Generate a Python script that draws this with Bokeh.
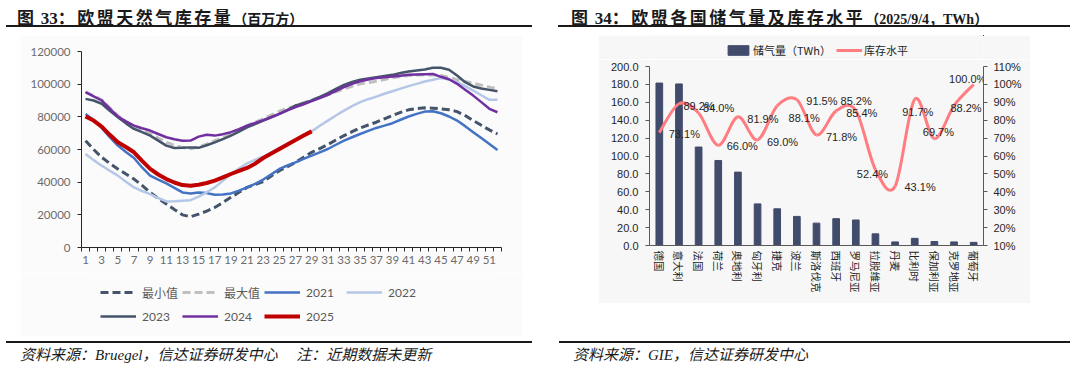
from bokeh.plotting import figure
from bokeh.models import (Range1d, FactorRange, LinearAxis, FixedTicker, PrintfTickFormatter,
                          Legend, LegendItem, ColumnDataSource, Div, Spacer)
from bokeh.layouts import row, column
from bokeh.embed import file_html
from bokeh.resources import INLINE
from bokeh.core.properties import value

# ---------------- data: left chart (EU gas storage, million m3) ----------------
weeks = list(range(1, 53))
week_labels = [str(w) for w in range(1, 52, 2)]
min_vals = [65400, 60000, 55200, 51500, 48100, 45000, 41900, 38000, 33700, 30000,
            26600, 23200, 20000, 18800, 20400, 22300, 24500, 27500, 30700, 33800,
            36800, 38600, 40400, 43800, 47000, 49500, 52100, 55200, 58300, 60600,
            63000, 65800, 68500, 70900, 73200, 75000, 76700, 78800, 80800, 82700,
            84300, 85100, 85500, 85300, 84900, 84300, 83200, 80800, 77700, 74800,
            72000, 69500]
max_vals = [95100, 93000, 90400, 85500, 80800, 77000, 74000, 71800, 69900, 67000,
            64400, 62500, 61200, 60500, 61500, 63300, 65400, 67300, 69500, 72000,
            74600, 76800, 78700, 81100, 83400, 85200, 86900, 88700, 90400, 92000,
            93500, 95300, 97100, 98700, 100200, 101000, 101800, 102900, 103900, 104700,
            105300, 105600, 105700, 105600, 105300, 104200, 102700, 101600, 100600, 99400,
            98200, 97100]
y2021 = [81800, 78100, 73200, 67500, 62400, 58500, 54800, 49000, 44000, 41500,
         39300, 36500, 33700, 33100, 33700, 33300, 32300, 32500, 33100, 34800,
         36800, 39000, 41600, 44800, 48100, 50200, 52100, 54200, 56200, 58200,
         60300, 62900, 65400, 67500, 69500, 71400, 73200, 74600, 76100, 78200,
         80200, 81800, 83200, 83400, 82200, 80200, 77700, 74300, 70600, 67000,
         63400, 59700]
y2022 = [57300, 53500, 50100, 47000, 44000, 40200, 36800, 34600, 32700, 30300,
         28200, 28300, 28600, 29000, 31100, 33800, 36800, 40800, 45000, 48400,
         51500, 53700, 55600, 58200, 61000, 63600, 66200, 68700, 71100, 74500,
         77700, 80800, 83800, 86500, 89000, 90800, 92400, 94100, 95700, 97300,
         98800, 100200, 101600, 102700, 103700, 102800, 101200, 98800, 96100, 93200,
         90400, 90400]
y2023 = [91000, 90000, 88000, 83700, 79800, 76000, 72600, 70600, 68500, 65400,
         62400, 60900, 61000, 61300, 61000, 62600, 64400, 66400, 68500, 71000,
         73600, 75600, 77700, 79700, 81800, 84300, 86900, 88400, 90000, 92200,
         94500, 97100, 99600, 101300, 102700, 103500, 104300, 105000, 105700, 106800,
         107800, 108400, 109000, 110000, 110000, 108800, 105300, 101200, 98600, 97300,
         96500, 95700]
y2024 = [95100, 92500, 90000, 85000, 80200, 77200, 74600, 73000, 71600, 69500,
         67500, 66300, 65400, 65500, 67900, 69000, 68500, 69400, 70600, 72500,
         74600, 76300, 77900, 79900, 81800, 83900, 85900, 87700, 89600, 91500,
         93500, 95900, 98200, 100200, 101800, 102900, 103700, 104200, 104700, 105200,
         105700, 105900, 106100, 106300, 104500, 103000, 100200, 96600, 93000, 89000,
         84900, 82800]
y2025 = [80200, 77700, 74000, 69000, 64400, 61500, 58300, 53000, 48100, 44700,
         41900, 39800, 38200, 37800, 38400, 39500, 40900, 42900, 45000, 46900,
         48700, 51300, 54800, 57500, 60300, 63100, 65800, 68500, 71100]
y_ticks_left = [0, 20000, 40000, 60000, 80000, 100000, 120000]

# ---------------- data: right chart (storage by country, 2025/9/4) ----------------
countries = ["德国", "意大利", "法国", "荷兰", "奥地利", "匈牙利", "捷克", "波兰", "斯洛伐克",
             "西班牙", "罗马尼亚", "拉脱维亚", "丹麦", "比利时", "保加利亚", "克罗地亚", "葡萄牙"]
storage_twh = [181.5, 180.5, 110.0, 95.0, 82.0, 46.5, 41.0, 32.5, 25.0,
               30.0, 28.5, 13.0, 4.0, 8.0, 4.5, 4.0, 3.5]
fill_level = [73.1, 89.2, 84.0, 66.0, 81.9, 69.0, 88.1, 91.5, 71.8,
              85.2, 85.4, 52.4, 43.1, 91.7, 69.7, 88.2, 100.0]
# data-label pixel offsets (styling, like Excel label placement)
lab_dx = [25, 20, 20, 24, 25, 25, 27, 25, 25, 20, 6, -3, 25, 3, 4, 12, -6]
lab_dy = [1, 2, -5, 1, 2, 2, 12, 1, 2, -10, 2, 4, 1, 13, -7, 2, -5]

AX = "#262626"
GREY_TXT = "#6b6b6b"
LEFT_FONT = "Lato, 'Noto Sans CJK SC'"
BG1 = "#fbfbfb"
BG2 = "#f7f7f7"


def legend_fig(w, h, bg):
    # a small canvas that only carries a legend; its ranges keep the
    # legend's sample renderers out of view
    f = figure(width=w, height=h, output_backend="svg", toolbar_location=None,
               x_axis_type=None, y_axis_type=None, min_border=0,
               x_range=Range1d(-3, -2), y_range=Range1d(-3, -2),
               background_fill_color=bg, border_fill_color=bg, outline_line_color=None)
    f.title.visible = False
    return f


# ================= left figure =================
p1 = figure(width=502, height=237, output_backend="svg", toolbar_location=None,
            x_range=Range1d(0.5, 52.5), y_range=Range1d(0, 120000),
            min_border_left=61, min_border_right=21, min_border_top=16, min_border_bottom=25,
            background_fill_color=BG1, border_fill_color=BG1, outline_line_color=None)
p1.title.visible = False
p1.xgrid.visible = False
p1.ygrid.visible = False

yax = p1.yaxis[0]
yax.ticker = FixedTicker(ticks=y_ticks_left)
yax.formatter = PrintfTickFormatter(format="%d")
yax.major_tick_out = 4
yax.major_tick_in = 0
yax.minor_tick_out = 0
yax.minor_tick_in = 0
yax.axis_line_color = AX
yax.major_tick_line_color = AX
yax.major_label_text_font = LEFT_FONT
yax.major_label_text_font_size = "11.5px"
yax.major_label_text_color = GREY_TXT
yax.major_label_standoff = 7

xax = p1.xaxis[0]
xax.ticker = FixedTicker(ticks=[int(s) for s in week_labels],
                         minor_ticks=[w - 0.5 for w in weeks] + [52.5])
xax.major_tick_out = 4
xax.major_tick_in = 0
xax.major_tick_line_color = None
xax.minor_tick_out = 4
xax.minor_tick_in = 0
xax.minor_tick_line_color = AX
xax.axis_line_color = AX
xax.major_label_text_font = LEFT_FONT
xax.major_label_text_font_size = "11.5px"
xax.major_label_text_color = GREY_TXT
xax.major_label_standoff = 4

series = [
    ("最小值", min_vals, "#44546A", 3, "8 4"),
    ("最大值", max_vals, "#BFBFBF", 3, "8 4"),
    ("2021", y2021, "#4472C4", 2.5, "solid"),
    ("2022", y2022, "#B4C7E7", 2.5, "solid"),
    ("2023", y2023, "#44546A", 2.5, "solid"),
    ("2024", y2024, "#7030A0", 2.5, "solid"),
    ("2025", y2025, "#C00000", 4, "solid"),
]

# legend strip below the left chart (its frame is aligned with p1's frame)
lf1 = legend_fig(502, 64, BG1)
items1 = []
for name, vals, color, lw, dash in series:
    xs = weeks[:len(vals)]
    p1.line(xs, vals, line_color=color, line_width=lw, line_dash=dash, line_join="round")
    r = lf1.line(xs, vals, line_color=color, line_width=lw, line_dash=dash)
    items1.append(LegendItem(label=name, renderers=[r]))

leg1 = Legend(items=items1, location=(19, 10), orientation="horizontal", ncols=4,
              glyph_width=36, glyph_height=20, label_standoff=6, label_width=36,
              label_height=20, spacing=4, padding=0, margin=0,
              border_line_color=None, background_fill_alpha=0,
              label_text_font=LEFT_FONT, label_text_font_size="12px",
              label_text_color="#595959")
lf1.add_layout(leg1)

# ================= right figure =================
p2 = figure(width=432, height=244, output_backend="svg", toolbar_location=None,
            x_range=FactorRange(factors=countries, range_padding=0),
            y_range=Range1d(0, 200),
            min_border_left=51, min_border_right=47, min_border_top=7, min_border_bottom=58,
            background_fill_color=BG2, border_fill_color=BG2, outline_line_color=None)
p2.title.visible = False
p2.xgrid.visible = False
p2.ygrid.visible = False
p2.extra_y_ranges = {"pct": Range1d(10, 110)}

p2.vbar(x=countries, top=storage_twh, width=0.34, fill_color="#414B6B", line_color="#414B6B")

# smoothed (Excel-like) line via Catmull-Rom -> cubic Bezier segments
n = len(fill_level)
xc = [i + 0.5 for i in range(n)]
seg = dict(x0=[], y0=[], x1=[], y1=[], cx0=[], cy0=[], cx1=[], cy1=[])
for i in range(n - 1):
    a = max(i - 1, 0)
    d = min(i + 2, n - 1)
    seg["x0"].append(xc[i]); seg["y0"].append(fill_level[i])
    seg["x1"].append(xc[i + 1]); seg["y1"].append(fill_level[i + 1])
    seg["cx0"].append(xc[i] + (xc[i + 1] - xc[a]) / 6)
    seg["cy0"].append(fill_level[i] + (fill_level[i + 1] - fill_level[a]) / 6)
    seg["cx1"].append(xc[i + 1] - (xc[d] - xc[i]) / 6)
    seg["cy1"].append(fill_level[i + 1] - (fill_level[d] - fill_level[i]) / 6)
p2.bezier(source=ColumnDataSource(seg), x0="x0", y0="y0", x1="x1", y1="y1",
          cx0="cx0", cy0="cy0", cx1="cx1", cy1="cy1",
          line_color="#FF7C80", line_width=3, y_range_name="pct")

lab_src = ColumnDataSource(dict(x=xc, y=fill_level, t=[f"{v:.1f}%" for v in fill_level],
                                dx=lab_dx, dy=lab_dy))
p2.text(x="x", y="y", text="t", x_offset="dx", y_offset="dy", source=lab_src,
        text_align="center", text_baseline="middle", text_font=value("Liberation Sans"),
        text_font_size="11px", text_color="#262626", y_range_name="pct")

ly = p2.yaxis[0]
ly.ticker = FixedTicker(ticks=[0, 20, 40, 60, 80, 100, 120, 140, 160, 180, 200])
ly.formatter = PrintfTickFormatter(format="%.1f")
ry = LinearAxis(y_range_name="pct", ticker=FixedTicker(ticks=list(range(10, 111, 10))),
                formatter=PrintfTickFormatter(format="%d%%"))
p2.add_layout(ry, "right")
for ax in (ly, ry):
    ax.major_tick_out = 4
    ax.major_tick_in = 0
    ax.minor_tick_out = 0
    ax.minor_tick_in = 0
    ax.axis_line_color = "#595959"
    ax.major_tick_line_color = "#595959"
    ax.major_label_text_font = "Liberation Sans"
    ax.major_label_text_font_size = "11px"
    ax.major_label_text_color = "#262626"
ly.major_label_standoff = 7
ry.major_label_standoff = 6

cx = p2.xaxis[0]
cx.major_label_orientation = "vertical"
cx.major_tick_line_color = None
cx.major_tick_out = 0
cx.axis_line_color = "#595959"
cx.major_label_text_font = "Noto Sans CJK SC"
cx.major_label_text_font_size = "10.5px"
cx.major_label_text_color = "#262626"
cx.major_label_standoff = 5

# legend strip above the right chart (its frame is aligned with p2's frame)
lf2 = legend_fig(432, 24, BG2)
bar_leg = lf2.vbar(x=xc, top=storage_twh, width=0.34, fill_color="#414B6B", line_color="#414B6B")
line_leg = lf2.line(xc, fill_level, line_color="#FF7C80", line_width=3)
leg2 = Legend(items=[LegendItem(label="储气量（TWh）", renderers=[bar_leg]),
                     LegendItem(label="库存水平", renderers=[line_leg])],
              location=(76, 1), orientation="horizontal",
              glyph_width=26, glyph_height=12, label_standoff=2, label_height=14,
              spacing=5, padding=0, margin=0, border_line_color=None,
              background_fill_alpha=0, label_text_font="Noto Sans CJK SC",
              label_text_font_size="11px", label_text_color="#262626")
lf2.add_layout(leg2)

# ================= titles & footers =================
SER = "'Liberation Serif','Noto Sans CJK SC'"


def title_div(num, body, paren, rule_left, rule_w, pad, w):
    html = (f'<div style="margin:0 0 0 {rule_left}px;width:{rule_w}px;height:27px;box-sizing:border-box;'
            f'border-bottom:2px solid #1a1a1a;padding:8px 0 0 {pad}px;white-space:nowrap;line-height:17px;'
            f'color:#1a1a1a;font-weight:bold;font-size:17px;font-family:\'Noto Sans CJK SC\';letter-spacing:2.5px;">'
            f'图<span style="font-family:{SER};letter-spacing:0;"> {num}</span>：{body}'
            f'<span style="font-family:{SER};font-size:14px;letter-spacing:0;">{paren}</span></div>')
    return Div(text=html, width=w, height=35, margin=0)


def foot_div(txt, rule_left, rule_w, pad, w):
    html = (f'<div style="margin:5px 0 0 {rule_left}px;width:{rule_w}px;box-sizing:border-box;'
            f'border-top:2px solid #1a1a1a;padding:4px 0 0 {pad}px;white-space:nowrap;'
            f'line-height:16px;color:#1a1a1a;font-style:italic;font-size:15px;'
            f'font-family:{SER};">{txt}</div>')
    return Div(text=html, width=w, height=32, margin=0)


t_left = title_div("33", "欧盟天然气库存量", "（百万方）", 6, 526, 11, 540)
t_right = title_div("34", "欧盟各国储气量及库存水平", "（2025/9/4，TWh）", 18, 512, 13, 535)
f_left = foot_div("资料来源：Bruegel，信达证券研发中心　 注：近期数据未更新", 6, 526, 14, 540)
f_right = foot_div("资料来源：GIE，信达证券研发中心", 19, 511, 14, 535)

left_col = column(p1, lf1, spacing=0)
right_col = column(lf2, p2, spacing=0, align="start")

layout = column(row(t_left, t_right, spacing=0),
                row(Spacer(width=20, height=301, margin=0), left_col,
                    Spacer(width=76, height=301, margin=0), right_col, spacing=0),
                row(f_left, f_right, spacing=0),
                spacing=0)

open("out.html", "w").write(file_html(layout, INLINE, "chart"))
